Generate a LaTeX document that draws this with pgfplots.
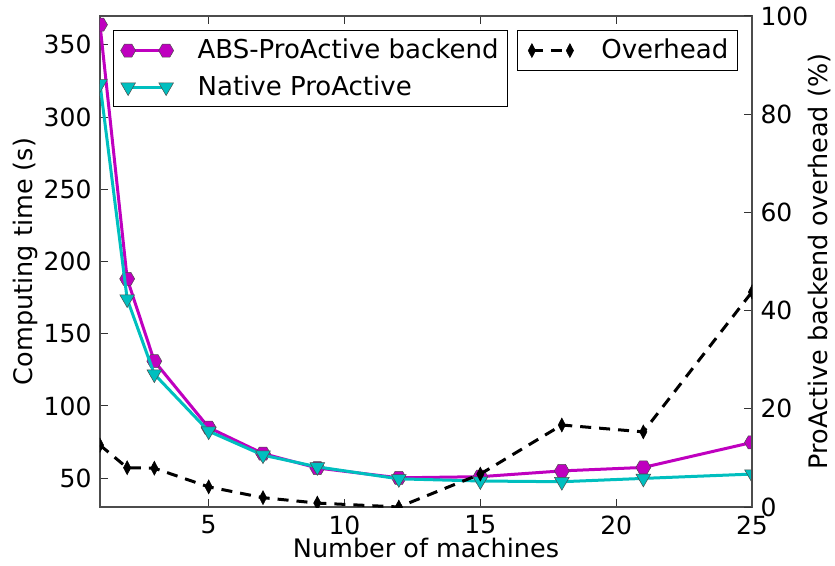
\documentclass[border=0pt]{standalone}
\usepackage{pgfplots}
\pgfplotsset{compat=1.18}
\usepackage{fontspec}
\setmainfont{DejaVu Sans}
\definecolor{mplm}{RGB}{191,0,191}
\definecolor{mplc}{RGB}{0,191,191}
\pgfdeclareplotmark{hexagon*}{%
  \pgfpathmoveto{\pgfpointpolar{0}{\pgfplotmarksize}}%
  \pgfpathlineto{\pgfpointpolar{60}{\pgfplotmarksize}}%
  \pgfpathlineto{\pgfpointpolar{120}{\pgfplotmarksize}}%
  \pgfpathlineto{\pgfpointpolar{180}{\pgfplotmarksize}}%
  \pgfpathlineto{\pgfpointpolar{240}{\pgfplotmarksize}}%
  \pgfpathlineto{\pgfpointpolar{300}{\pgfplotmarksize}}%
  \pgfpathclose
  \pgfusepathqfillstroke}
\begin{document}
\fontsize{25}{30}\selectfont
\begin{tikzpicture}
\useasboundingbox (-100pt,-58pt) rectangle (735pt,507pt);
\pgfplotsset{
  every axis/.append style={
    scale only axis, width=652pt, height=491pt,
    xmin=1, xmax=25,
    /pgf/number format/assume math mode=true,
    tick label style={font=\fontsize{25}{30}\selectfont},
    label style={font=\fontsize{25.5}{30}\selectfont},
    major tick length=8pt,
    tick style={black!80, line width=1pt},
    axis line style={black!70, line width=1.6pt},
    legend cell align=left,
    clip marker paths=true,
  },
  mylegimg/.style={legend image code/.code={
      \draw[##1] plot coordinates {(0pt,0pt) (38pt,0pt)};
      \path (-6pt,0pt) (66pt,0pt);}},
}
\begin{axis}[
  ymin=30, ymax=370,
  xtick={5,10,15,20,25},
  ytick={50,100,150,200,250,300,350},
  xtick pos=both, ytick pos=left,
  xlabel={Number of machines},
  ylabel={Computing time (s)},
  xlabel style={at={(axis description cs:0.5,-0.084)}, anchor=center},
  ylabel style={at={(axis description cs:-0.115,0.5)}, anchor=center},
  legend style={at={(0.02,0.971)}, anchor=north west, draw=black, line width=1.2pt,
    font=\fontsize{26}{31}\selectfont, row sep=9pt, inner xsep=7pt, inner ysep=6pt},
  mylegimg,
]
\addplot[mplm, line width=3pt, mark=hexagon*, mark size=7.5pt,
  mark options={fill=mplm, draw=black!70, line width=0.5pt}]
  coordinates {(1,364) (2,188) (3,131) (5,85) (7,67) (9,57) (12,50.2) (15,51) (18,55) (21,57.4) (25,74.7)};
\addlegendentry{ABS-ProActive backend}
\addplot[mplc, line width=3pt, mark=triangle*, mark size=8.5pt,
  mark options={rotate=180, fill=mplc, draw=black!70, line width=0.5pt}]
  coordinates {(1,323) (2,174) (3,122) (5,82.5) (7,65.9) (9,57.8) (12,49.5) (15,48) (18,47.5) (21,49.8) (25,52.8)};
\addlegendentry{Native ProActive}
\end{axis}
\begin{axis}[
  ymin=0, ymax=100,
  ytick={0,20,40,60,80,100},
  axis x line=none,
  axis y line*=right,
  ytick pos=right,
  ylabel={ProActive backend overhead (\%)},
  ylabel style={at={(axis description cs:1.104,0.5)}, anchor=center},
  legend style={at={(0.9785,0.971)}, anchor=north east, draw=black, line width=1.2pt,
    font=\fontsize{26}{31}\selectfont, inner xsep=7pt, inner ysep=6pt},
  mylegimg,
]
\addplot[black, line width=3pt, dash pattern=on 11pt off 8pt, mark=diamond*, mark size=7pt,
  mark options={solid, fill=black, xscale=0.7, line width=0.5pt}]
  coordinates {(1,12.6) (2,8.0) (3,7.9) (5,4.1) (7,1.9) (9,0.8) (12,0) (15,6.7) (18,16.7) (21,15.3) (25,43.8)};
\addlegendentry{Overhead}
\end{axis}
\end{tikzpicture}
\end{document}
